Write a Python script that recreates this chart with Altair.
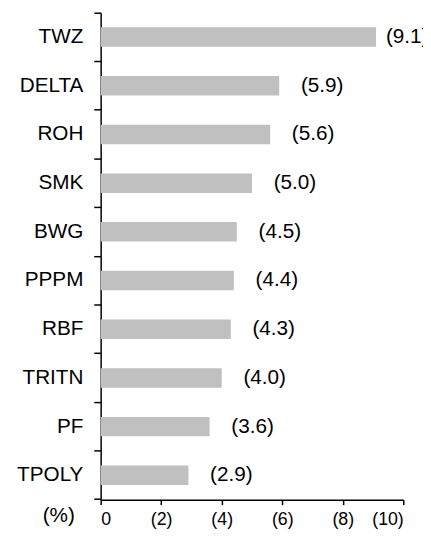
import altair as alt
import pandas as pd

categories = ["TWZ", "DELTA", "ROH", "SMK", "BWG", "PPPM", "RBF", "TRITN", "PF", "TPOLY"]
values = [9.1, 5.9, 5.6, 5.0, 4.5, 4.4, 4.3, 4.0, 3.6, 2.9]
x_ticks = [0, 2, 4, 6, 8, 10]

df = pd.DataFrame({"cat": categories, "val": values})
FONT = "Liberation Sans"

y_enc = alt.Y(
    "cat:N", sort=categories, title=None,
    scale=alt.Scale(paddingInner=0, paddingOuter=0),
    axis=alt.Axis(bandPosition=1, tickExtra=True, tickSize=7, labelPadding=11,
                  labelFontSize=21, labelFont=FONT, labelColor="black",
                  domainColor="black", tickColor="black", domainWidth=1.5, tickWidth=1.5),
)
x_enc = alt.X(
    "val:Q", title="(%)",
    scale=alt.Scale(domain=[0, 10], nice=False),
    axis=alt.Axis(values=x_ticks,
                  labelExpr="datum.value == 0 ? '0' : '(' + datum.value + ')'",
                  grid=False, tickSize=5, labelPadding=6, labelFontSize=18, labelFont=FONT,
                  labelColor="black", domainColor="black", tickColor="black",
                  domainWidth=1.5, tickWidth=1.5,
                  titleX=-43, titleY=16, titleAlign="center", titleBaseline="middle",
                  titleFontSize=21, titleFontWeight="normal", titleFont=FONT, titleColor="black"),
)

base = alt.Chart(df)
bars = base.mark_bar(color="#c0c0c0", height=alt.RelativeBandSize(0.4)).encode(x=x_enc, y=y_enc)

lbl = base.transform_calculate(lbl="'(' + format(datum.val, '.1f') + ')'")
text_main = lbl.transform_filter("datum.cat != 'TWZ'").mark_text(
    align="left", baseline="middle", dx=22, fontSize=21, font=FONT, color="black"
).encode(x="val:Q", y=alt.Y("cat:N", sort=categories), text="lbl:N")
text_top = lbl.transform_filter("datum.cat == 'TWZ'").mark_text(
    align="left", baseline="middle", dx=10, fontSize=21, font=FONT, color="black"
).encode(x="val:Q", y=alt.Y("cat:N", sort=categories), text="lbl:N")

chart = alt.layer(bars, text_main, text_top).properties(
    width=307, height=494,
    autosize=alt.AutoSizeParams(type="none"),
    padding={"left": 94, "top": 1, "right": 20, "bottom": 29},
).configure_view(stroke=None)

chart.save("out.html", embed_options={"renderer": "svg", "actions": False})
